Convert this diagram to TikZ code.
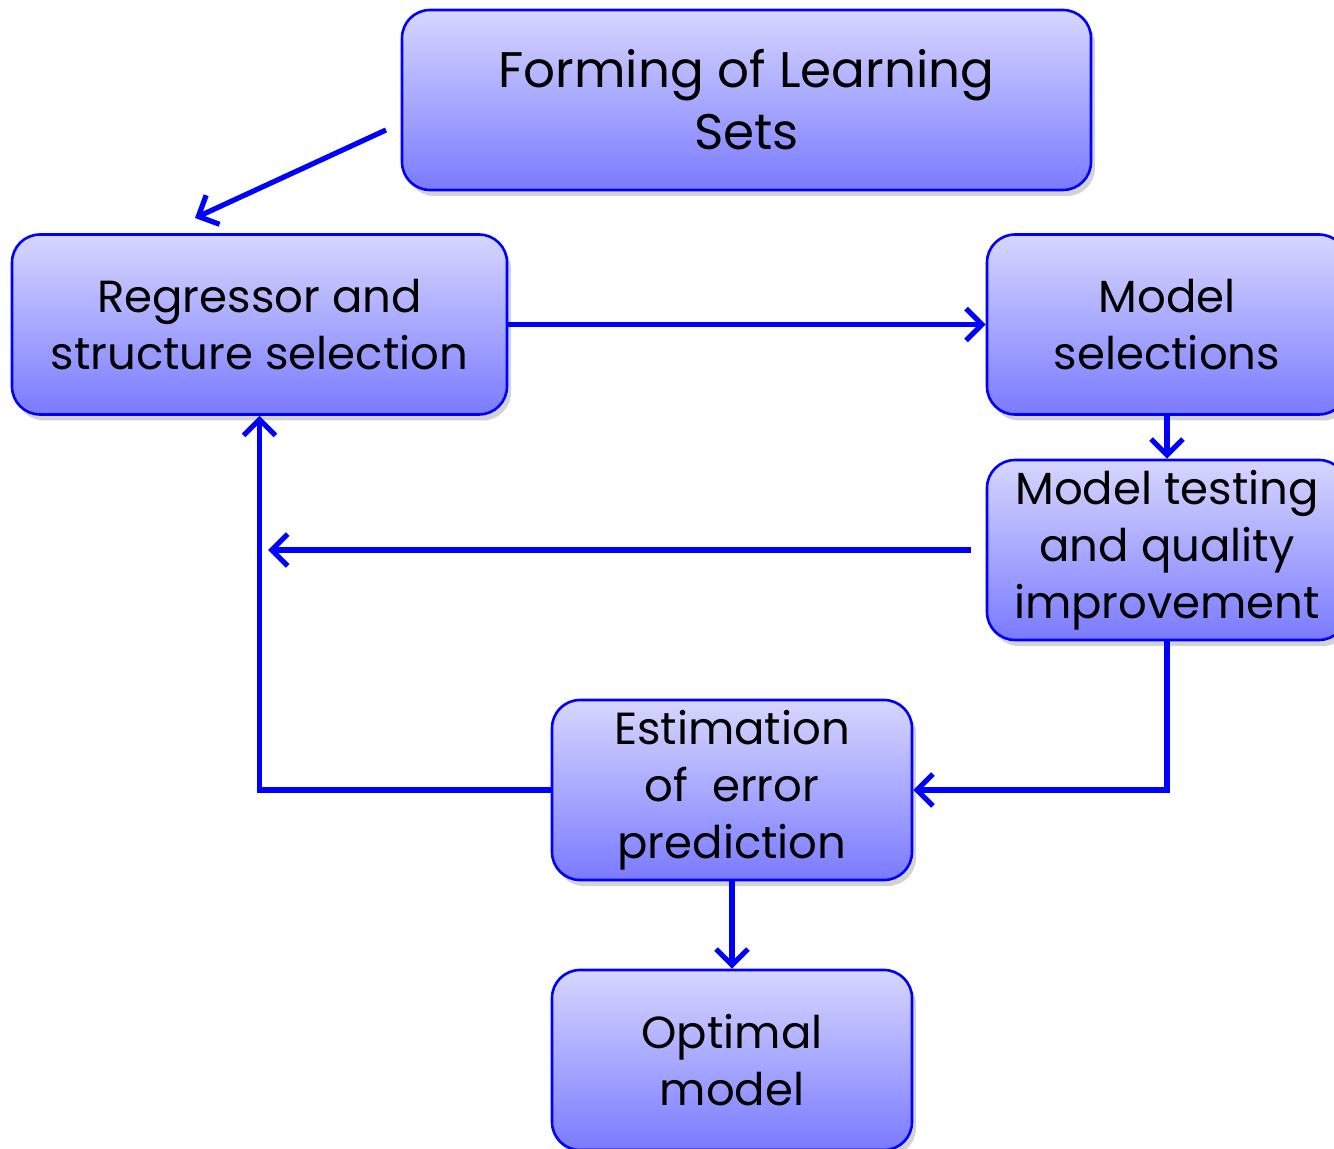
\documentclass[tikz,border=0pt]{standalone}
\usepackage{fontspec}
\setmainfont{Poppins}
\usetikzlibrary{arrows.meta,shadows,calc}

\tikzset{
  stage/.style={draw=blue,line width=1.3pt,rounded corners=14pt,top color=blue!16,bottom color=blue!52,
    drop shadow={opacity=0.35,shadow xshift=2pt,shadow yshift=-3pt},align=center,inner sep=0pt,
    minimum width=180pt,minimum height=90pt,font=\fontsize{22.5}{28.5}\selectfont},
  flow/.style={blue,line width=2.6pt,-{Straight Barb[length=8pt,width=16pt,line width=2.6pt]}},
}

\begin{document}
\begin{tikzpicture}[x=0.5pt,y=-0.5pt]
  \useasboundingbox (0,0) rectangle (1334,1149);

  \node[stage,minimum width=344.5pt,font=\fontsize{25}{31}\selectfont] (learn) at (746.5,100) {Forming of Learning\\Sets};
  \node[stage,minimum width=247.5pt] (regr) at (259.5,324.5) {Regressor and\\structure selection};
  \node[stage] (msel) at (1167,324.5) {Model\\selections};
  \node[stage] (mtest) at (1167,550) {Model testing\\and quality\\improvement};
  \node[stage] (est) at (732,790) {Estimation\\of\ \ error\\prediction};
  \node[stage] (opt) at (732,1060) {Optimal\\model};

  \coordinate (d1) at (386,130);
  \coordinate (d2) at (195,218);
  \coordinate (back) at (268,550);

  \draw[flow] (d1) -- (d2);
  \draw[flow] (regr.east) -- (msel.west);
  \draw[flow] (msel) -- (mtest);
  \draw[flow] ($ (mtest.west) + (-15,0) $) -- (back);
  \draw[flow] (mtest.south) |- (est.east);
  \draw[flow] (est.west) -| (regr.south);
  \draw[flow] (est) -- (opt);
\end{tikzpicture}
\end{document}
